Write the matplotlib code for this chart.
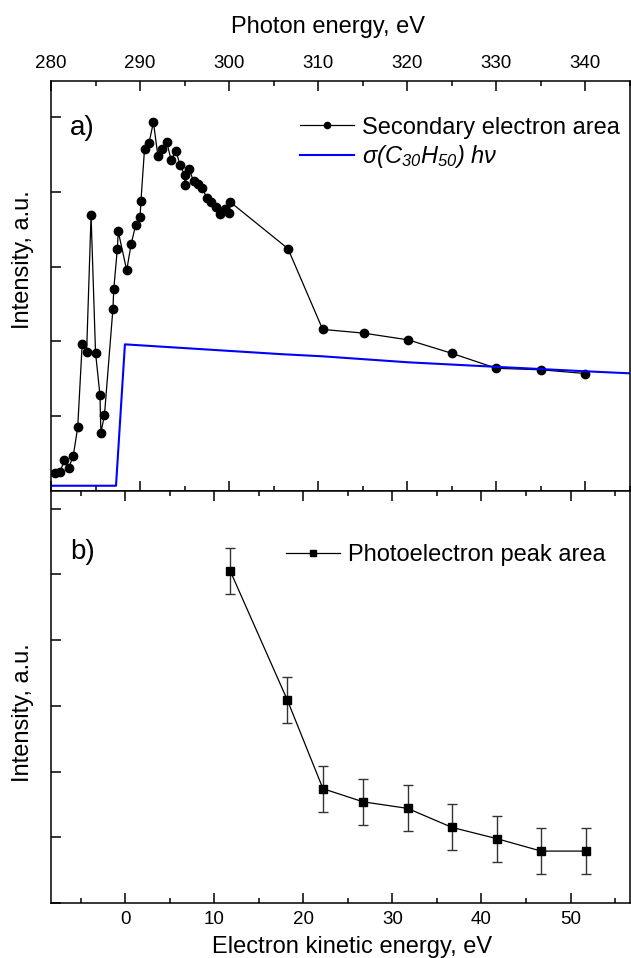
import matplotlib

matplotlib.use("Agg")
import matplotlib.pyplot as plt  # noqa: E402
from matplotlib.lines import Line2D  # noqa: E402
from matplotlib.ticker import MultipleLocator  # noqa: E402

# ── data (a): secondary electron area vs photon energy ──────────────────────
photon_ev = [280.4, 281.0, 281.5, 282.0, 282.5, 283.0, 283.5, 284.0, 284.5,
             285.0, 285.5, 285.6, 286.0, 286.95, 287.05, 287.45, 287.55,
             288.5, 289.0, 289.5, 290.0, 290.1, 290.5, 291.0, 291.5, 292.0,
             292.5, 293.0, 293.5, 294.0, 294.5, 295.0, 295.05, 295.5, 296.0,
             296.5, 297.0, 297.5, 298.0, 298.5, 299.0, 299.5, 300.0, 300.15,
             306.6, 310.5, 315.1, 320.1, 325.0, 330.0, 335.0, 340.0]
secondary = [0.24, 0.25, 0.41, 0.31, 0.47, 0.85, 1.96, 1.86, 3.69,
             1.85, 1.28, 0.78, 1.01, 2.43, 2.70, 3.24, 3.47,
             2.95, 3.30, 3.55, 3.66, 3.88, 4.57, 4.65, 4.93, 4.48,
             4.57, 4.66, 4.42, 4.55, 4.36, 4.22, 4.09, 4.31, 4.14,
             4.10, 4.05, 3.91, 3.86, 3.79, 3.70, 3.77, 3.71, 3.86,
             3.24, 2.16, 2.11, 2.02, 1.84, 1.64, 1.62, 1.57]

# cross section times photon energy
sigma_ev = [279.5, 287.3, 288.3, 305.7, 310.5, 320.1, 329.9, 340.0, 345.5]
sigma_hv = [0.07, 0.07, 1.96, 1.83, 1.80, 1.72, 1.66, 1.60, 1.57]

# ── data (b): photoelectron peak area vs kinetic energy ─────────────────────
kinetic_ev = [11.8, 18.2, 22.2, 26.7, 31.7, 36.7, 41.7, 46.7, 51.7]
peak_area = [5.05, 3.09, 1.74, 1.54, 1.44, 1.15, 0.98, 0.79, 0.79]
peak_err = [0.35, 0.35, 0.35, 0.35, 0.35, 0.35, 0.35, 0.35, 0.35]

FONT = "Liberation Sans"

plt.rcParams["font.family"] = FONT
plt.rcParams["mathtext.fontset"] = "custom"
plt.rcParams["mathtext.it"] = "Liberation Sans:italic"
plt.rcParams["mathtext.rm"] = "Liberation Sans:italic"
plt.rcParams["axes.linewidth"] = 1.1

fig = plt.figure(figsize=(6.31, 9.58), dpi=100)
ax_a = fig.add_axes([0.0808, 0.4875, 0.9176, 0.4283])
ax_b = fig.add_axes([0.0808, 0.0574, 0.9176, 0.4301])

# ── panel a ─────────────────────────────────────────────────────────────────
ax_a.plot(photon_ev, secondary, color="black", linewidth=0.9, marker="o",
          markersize=6, label="Secondary electron area")
ax_a.plot(sigma_ev, sigma_hv, color="#0000ff", linewidth=1.5,
          label=r"$\sigma(C_{30}H_{50})\ h\nu$")
ax_a.set_xlim(280, 345)
ax_a.set_ylim(0, 5.485)
ax_a.xaxis.set_major_locator(MultipleLocator(10))
ax_a.xaxis.set_minor_locator(MultipleLocator(5))
ax_a.yaxis.set_major_locator(MultipleLocator(1))
ax_a.xaxis.set_label_position("top")
ax_a.tick_params(axis="x", which="both", direction="in", top=True, bottom=True,
                 labeltop=True, labelbottom=False, width=1.1, pad=6,
                 labelsize=13.5)
ax_a.tick_params(axis="x", which="major", length=7)
ax_a.tick_params(axis="x", which="minor", length=3.5)
ax_a.tick_params(axis="y", direction="in", left=True, right=False,
                 labelleft=False, length=7, width=1.1)
ax_a.set_xlabel("Photon energy, eV", fontsize=17)
ax_a.xaxis.label.set_verticalalignment("baseline")
ax_a.xaxis.set_label_coords(0.479, 1.1163)
ax_a.set_ylabel("Intensity, a.u.", fontsize=17)
ax_a.yaxis.set_label_coords(-0.03, 0.565)
ax_a.text(0.033, 0.885, "a)", transform=ax_a.transAxes, fontsize=20,
          va="center", ha="left")
ax_a.legend(loc="center left", bbox_to_anchor=(0.43, 0.847),
            frameon=False, borderpad=0, borderaxespad=0,
            handlelength=2.3, handletextpad=0.33, labelspacing=0.2,
            markerscale=0.75, prop={"size": 17})

# ── panel b ─────────────────────────────────────────────────────────────────
ax_b.errorbar(kinetic_ev, peak_area, yerr=peak_err, color="black",
              ecolor="#333333", elinewidth=1.0, capsize=3.3, capthick=1.0,
              linewidth=0.9, marker="s", markersize=6)
ax_b.set_xlim(-8.33, 56.67)
ax_b.set_ylim(0, 6.27)
ax_b.xaxis.set_major_locator(MultipleLocator(10))
ax_b.xaxis.set_minor_locator(MultipleLocator(5))
ax_b.yaxis.set_major_locator(MultipleLocator(1))
ax_b.tick_params(axis="x", which="both", direction="in", top=True, bottom=True,
                 labeltop=False, labelbottom=True, width=1.1, pad=6,
                 labelsize=13.5)
ax_b.tick_params(axis="x", which="major", length=7)
ax_b.tick_params(axis="x", which="minor", length=3.5)
ax_b.tick_params(axis="y", direction="in", left=True, right=False,
                 labelleft=False, length=7, width=1.1)
ax_b.set_xlabel("Electron kinetic energy, eV", fontsize=17)
ax_b.xaxis.label.set_verticalalignment("baseline")
ax_b.xaxis.set_label_coords(0.52, -0.122)
ax_b.set_ylabel("Intensity, a.u.", fontsize=17)
ax_b.yaxis.set_label_coords(-0.03, 0.461)
ax_b.text(0.033, 0.852, "b)", transform=ax_b.transAxes, fontsize=20,
          va="center", ha="left")
peak_handle = Line2D([], [], color="black", linewidth=0.9, marker="s",
                     markersize=6)
ax_b.legend([peak_handle], ["Photoelectron peak area"], loc="center left",
            bbox_to_anchor=(0.4067, 0.845), frameon=False, borderpad=0,
            borderaxespad=0, handlelength=2.27, handletextpad=0.34,
            markerscale=0.75, prop={"size": 17})

fig.savefig("out.png", dpi=100)
